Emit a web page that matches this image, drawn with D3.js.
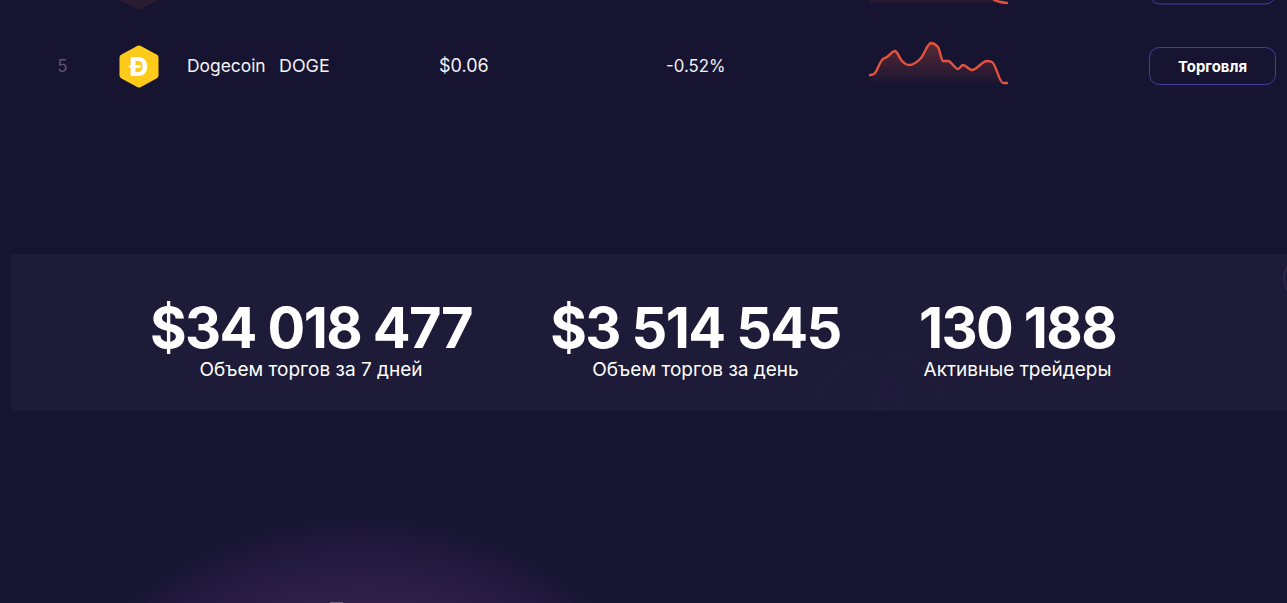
<!DOCTYPE html>
<html><head><meta charset="utf-8">
<script src="https://cdn.jsdelivr.net/npm/d3@7/dist/d3.min.js"></script>
<style>html,body{margin:0;padding:0;background:#171431;overflow:hidden}svg{display:block}text{font-family:Inter,"Noto Sans",sans-serif}</style>
</head><body><svg id="c" width="1287" height="603"></svg>
<script>
const rowRank = "5";
const rowName = "Dogecoin";
const rowTicker = "DOGE";
const rowPrice = "$0.06";
const rowChange = "-0.52%";
const rowAction = "Торговля";
const sparkTime = [0,4,12,17,25,32,39,51,61,68,73,78,88,93,102,117,122,133,137];
const sparkValue = [15,16,30,33,39,29,25,32,47,43,29,29,21,25,20,29,28,7,7];
const prevTime = [124,130,137];
const prevValue = [90,88,87];
const statValues = ["$34 018 477","$3 514 545","130 188"];
const statLabels = ["Объем торгов за 7 дней","Объем торгов за день","Активные трейдеры"];

const svg = d3.select("#c");
const defs = svg.append("defs");
const bg = "#171431";
svg.append("rect").attr("width",1287).attr("height",603).attr("fill",bg);

const glow = defs.append("radialGradient").attr("id","glow");
glow.append("stop").attr("offset","72%").attr("stop-color","#33214c");
glow.append("stop").attr("offset","88%").attr("stop-color","#241b41");
glow.append("stop").attr("offset","100%").attr("stop-color",bg);
svg.append("circle").attr("cx",360).attr("cy",878).attr("r",365).attr("fill","url(#glow)");
svg.append("rect").attr("x",330).attr("y",602).attr("width",13).attr("height",1).attr("fill","#6d6380");

const area = defs.append("linearGradient").attr("id","area").attr("x1",0).attr("x2",0).attr("y1",0).attr("y2",1);
area.append("stop").attr("offset","0%").attr("stop-color","#e5533f").attr("stop-opacity",.33);
area.append("stop").attr("offset","100%").attr("stop-color","#e5533f").attr("stop-opacity",0);

// stat band
svg.append("rect").attr("x",11).attr("y",254).attr("width",1276).attr("height",157).attr("fill","#1e1b38");
const clip = defs.append("clipPath").attr("id","band");
clip.append("rect").attr("x",11).attr("y",254).attr("width",1276).attr("height",157);
const deco = svg.append("g").attr("clip-path","url(#band)").attr("fill","none").attr("stroke","#221c3d");
deco.append("circle").attr("cx",880).attr("cy",417).attr("r",65).attr("stroke-width",2);
deco.append("circle").attr("cx",880).attr("cy",417).attr("r",55).attr("stroke-width",1).attr("stroke","#201b3b");
deco.append("text").attr("transform","translate(885,415) rotate(14)").attr("text-anchor","middle").attr("font-size",50).attr("font-weight",800).attr("fill","#201b3a").attr("stroke","none").text("₿");
deco.append("circle").attr("cx",1305).attr("cy",278).attr("r",21).attr("stroke","#30254c").attr("stroke-width",2);

// table row
const x = d3.scaleLinear().domain([0,140]).range([870,1010]);
const y = d3.scaleLinear().domain([0,50]).range([90,40]);
const curve = d3.curveMonotoneX;
const areaGen = d3.area().x(d=>x(d.t)).y0(y(5)).y1(d=>y(d.v)).curve(curve);
const lineGen = d3.line().x(d=>x(d.t)).y(d=>y(d.v)).curve(curve);
const spark = sparkTime.map((t,i)=>({t,v:sparkValue[i]}));
const prev = prevTime.map((t,i)=>({t,v:prevValue[i]}));
svg.append("path").attr("d",areaGen(spark)).attr("fill","url(#area)");
svg.append("path").attr("d",lineGen(spark)).attr("fill","none").attr("stroke","#e5533f").attr("stroke-width",2.4).attr("stroke-linejoin","round").attr("stroke-linecap","round");
const fade = defs.append("linearGradient").attr("id","fade").attr("x1",0).attr("x2",0).attr("y1",0).attr("y2",1);
fade.append("stop").attr("offset","0%").attr("stop-color","#e5533f").attr("stop-opacity",.1);
fade.append("stop").attr("offset","100%").attr("stop-color","#e5533f").attr("stop-opacity",0);
svg.append("rect").attr("x",x(0)).attr("y",0).attr("width",134).attr("height",4).attr("fill","url(#fade)");
svg.append("path").attr("d",lineGen(prev)).attr("fill","none").attr("stroke","#e5533f").attr("stroke-width",2.4).attr("stroke-linecap","round");

svg.append("text").attr("x",62.5).attr("y",72).attr("text-anchor","middle").attr("font-size",17).attr("fill","#5d5273").text(rowRank);
// coin hexagons
const hex = (cx,cy,w,h)=>d3.line().curve(d3.curveLinearClosed)([[cx,cy-h/2],[cx+w/2,cy-h/4],[cx+w/2,cy+h/4],[cx,cy+h/2],[cx-w/2,cy+h/4],[cx-w/2,cy-h/4]]);
svg.append("path").attr("d",hex(139,66.5,33,36)).attr("fill","#fecb1a").attr("stroke","#fecb1a").attr("stroke-width",6).attr("stroke-linejoin","round");
svg.append("text").attr("x",139).attr("y",76).attr("text-anchor","middle").attr("font-size",26).attr("font-weight",800).attr("fill","#fff").text("Đ");
svg.append("path").attr("d",hex(139,-10,33,33)).attr("fill","#2a1c33").attr("stroke","#2a1c33").attr("stroke-width",6).attr("stroke-linejoin","round");

svg.append("text").attr("x",187).attr("y",71.5).attr("font-size",17.4).attr("fill","#f3f2f8").text(rowName);
svg.append("text").attr("x",279).attr("y",71.5).attr("font-size",17.9).attr("fill","#f3f2f8").text(rowTicker);
svg.append("text").attr("x",439).attr("y",71.5).attr("font-size",18).attr("fill","#f3f2f8").text(rowPrice);
svg.append("text").attr("x",666).attr("y",71.5).attr("font-size",16.8).attr("fill","#f3f2f8").text(rowChange);

const btn = {fill:"none",stroke:"#453f9c"};
svg.append("rect").attr("x",1149.5).attr("y",47.5).attr("width",126).attr("height",37).attr("rx",10).attr("fill",btn.fill).attr("stroke",btn.stroke);
svg.append("rect").attr("x",1149.5).attr("y",-33).attr("width",126).attr("height",37).attr("rx",10).attr("fill",btn.fill).attr("stroke",btn.stroke);
svg.append("text").attr("x",1212.5).attr("y",71.5).attr("text-anchor","middle").attr("font-size",14.9).attr("font-weight",700).attr("fill","#fff").text(rowAction);

// stats
const centers = [311,695.5,1017.5];
const g = svg.append("g");
g.selectAll("text.v").data(statValues).join("text").attr("class","v")
 .attr("x",(d,i)=>centers[i]).attr("y",348).attr("text-anchor","middle")
 .attr("font-size",56).attr("font-weight",700).attr("letter-spacing",-1.6).attr("fill","#fff").text(d=>d);
g.selectAll("text.l").data(statLabels).join("text").attr("class","l")
 .attr("x",(d,i)=>centers[i]).attr("y",376).attr("text-anchor","middle")
 .attr("font-size",19).attr("fill","#fff").text(d=>d);
</script></body></html>
